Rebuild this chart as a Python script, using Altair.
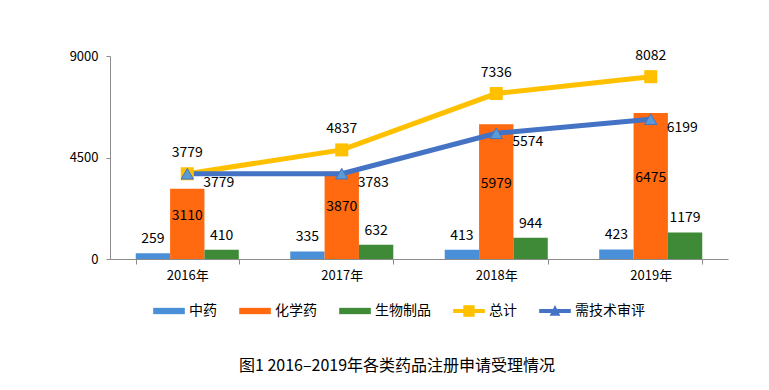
import altair as alt
import pandas as pd

years = ["2016年", "2017年", "2018年", "2019年"]
tcm = [259, 335, 413, 423]          # 中药
chem = [3110, 3870, 5979, 6475]     # 化学药
bio = [410, 632, 944, 1179]         # 生物制品
total = [3779, 4837, 7336, 8082]    # 总计
review = [3779, 3783, 5574, 6199]   # 需技术审评

bar_series = ["中药", "化学药", "生物制品"]
all_series = ["中药", "化学药", "生物制品", "总计", "需技术审评"]
colors = ["#4A90D9", "#FF6A10", "#3E8A37", "#FFC000", "#4472C4"]

rows = []
for name, vals in zip(all_series, [tcm, chem, bio, total, review]):
    for y, v in zip(years, vals):
        rows.append({"year": y, "series": name, "value": v})
df = pd.DataFrame(rows)

FONT = "Noto Sans CJK SC"

x_enc = alt.X("year:N", sort=years, title=None,
              scale=alt.Scale(paddingInner=0.333, paddingOuter=0.1667),
              axis=alt.Axis(labelAngle=0, tickBand="extent", tickSize=5,
                            labelPadding=5, labelFontSize=13, labelFont=FONT,
                            labelColor="#000", domainColor="#8c8c8c",
                            tickColor="#8c8c8c"))
y_enc = alt.Y("value:Q", title=None,
              scale=alt.Scale(domain=[0, 9000], nice=False),
              axis=alt.Axis(values=[0, 4500, 9000], format="d", grid=False, tickSize=4,
                            labelPadding=8, labelFontSize=13, labelFont=FONT,
                            labelColor="#000", domainColor="#8c8c8c",
                            tickColor="#8c8c8c"))

bar_path = "M-1,-0.2H1V0.2H-1Z"
tot_path = "M-1,-0.13H1V0.13H-1Z M-0.36,-0.36H0.36V0.36H-0.36Z"
rev_path = "M-1,-0.13H1V0.13H-1Z M-0.34,0.3L0,-0.38L0.34,0.3Z"
sym_expr = ("datum.value == '总计' ? '%s' : datum.value == '需技术审评' ? '%s' : '%s'"
            % (tot_path, rev_path, bar_path))

base = alt.Chart(df)

bars = base.transform_filter(
    alt.FieldOneOfPredicate(field="series", oneOf=bar_series)
).mark_bar().encode(
    x=x_enc,
    xOffset=alt.XOffset("series:N", scale=alt.Scale(domain=bar_series, paddingInner=0)),
    y=y_enc,
    color=alt.Color("series:N",
                    scale=alt.Scale(domain=all_series, range=colors),
                    legend=alt.Legend(title=None, orient="none", direction="horizontal",
                                      legendX=43, legendY=239, padding=0,
                                      symbolType={"expr": sym_expr},
                                      symbolSize=1000, symbolStrokeWidth=0,
                                      labelFont=FONT, labelFontSize=14,
                                      labelColor="#000", labelOffset=4,
                                      columnPadding=22)),
)

side_labels = base.transform_filter(
    alt.FieldOneOfPredicate(field="series", oneOf=["中药", "生物制品"])
).mark_text(dy=-14, baseline="middle", font=FONT, fontSize=14, color="#000").encode(
    x=alt.X("year:N", sort=years),
    xOffset=alt.XOffset("series:N", scale=alt.Scale(domain=bar_series, paddingInner=0)),
    y=alt.Y("value:Q"),
    text="value:Q",
)

chem_labels = base.transform_filter(
    alt.datum.series == "化学药"
).transform_calculate(mid="datum.value / 2").mark_text(
    dy=-8, baseline="middle", font=FONT, fontSize=14, color="#000"
).encode(
    x=alt.X("year:N", sort=years),
    xOffset=alt.XOffset("series:N", scale=alt.Scale(domain=bar_series, paddingInner=0)),
    y=alt.Y("mid:Q"),
    text="value:Q",
)

tot = base.transform_filter(alt.datum.series == "总计")
rev = base.transform_filter(alt.datum.series == "需技术审评")

tot_line = tot.mark_line(color="#FFC000", strokeWidth=5).encode(
    x=alt.X("year:N", sort=years), y="value:Q")
tot_pts = tot.mark_point(shape="square", filled=True, size=170, color="#FFC000", opacity=1).encode(
    x=alt.X("year:N", sort=years), y="value:Q")
tot_lbl = tot.mark_text(dy=-21, baseline="middle", font=FONT, fontSize=14, color="#000").encode(
    x=alt.X("year:N", sort=years), y="value:Q", text="value:Q")

rev_line = rev.mark_line(color="#4472C4", strokeWidth=5).encode(
    x=alt.X("year:N", sort=years), y="value:Q")
rev_pts = rev.mark_point(shape="triangle-up", filled=True, size=150, fill="#5B9BD5",
                         stroke="#4472C4", strokeWidth=1, opacity=1).encode(
    x=alt.X("year:N", sort=years), y="value:Q")
rev_lbl = rev.mark_text(dx=16, dy=9, align="left", baseline="middle", font=FONT,
                        fontSize=14, color="#000").encode(
    x=alt.X("year:N", sort=years), y="value:Q", text="value:Q")

chart = alt.layer(
    bars, side_labels, chem_labels, tot_line, rev_line, tot_pts, rev_pts, tot_lbl, rev_lbl
).properties(
    width=618, height=203,
    background="white",
    autosize=alt.AutoSizeParams(type="none"),
    padding={"left": 102, "top": 48, "right": 33, "bottom": 123},
    title=alt.TitleParams("图1 2016–2019年各类药品注册申请受理情况", orient="bottom",
                          anchor="middle", frame="group", offset=40, dx=-22,
                          font=FONT, fontSize=16, fontWeight="normal", color="#000"),
).configure_view(stroke=None)

chart.save("out.html", embed_options={"renderer": "svg", "actions": False})
